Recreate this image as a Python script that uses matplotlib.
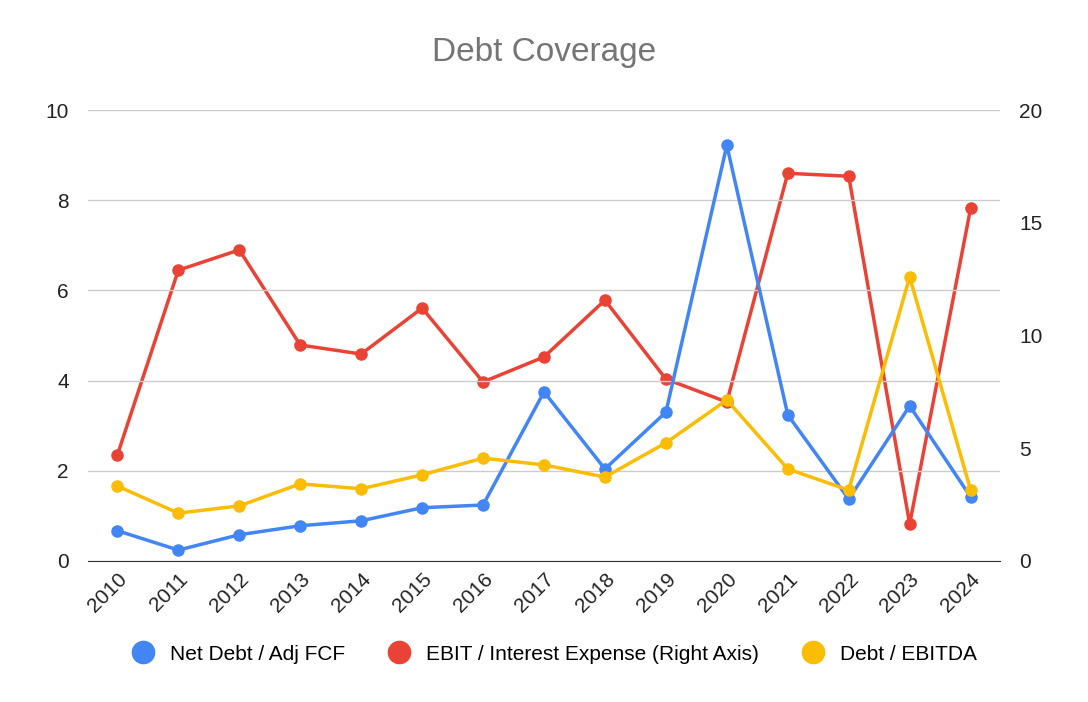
import matplotlib.pyplot as plt

years = [str(y) for y in range(2010, 2025)]
net_debt_fcf = [0.67, 0.24, 0.58, 0.78, 0.89, 1.18, 1.24, 3.75, 2.04, 3.30, 9.22, 3.24, 1.37, 3.44, 1.42]
ebit_interest = [4.7, 12.9, 13.8, 9.58, 9.18, 11.22, 7.94, 9.05, 11.57, 8.07, 7.05, 17.2, 17.07, 1.64, 15.65]
debt_ebitda = [1.66, 1.06, 1.22, 1.71, 1.60, 1.91, 2.28, 2.13, 1.86, 2.62, 3.57, 2.04, 1.57, 6.30, 1.57]

plt.rcParams['font.family'] = ['Arial', 'Liberation Sans', 'DejaVu Sans']

fig = plt.figure(figsize=(10.88, 7.02), dpi=100)
ax = fig.add_axes([0.081, 0.201, 0.838, 0.642])
ax2 = ax.twinx()

x = list(range(len(years)))
ax.plot(x, net_debt_fcf, color='#4285F4', lw=2.5, marker='o', ms=8, zorder=3)
ax.plot(x, debt_ebitda, color='#FBBC04', lw=2.5, marker='o', ms=8, zorder=4)
ax2.plot(x, ebit_interest, color='#EA4335', lw=2.5, marker='o', ms=8)

ax.set_ylim(0, 10)
ax2.set_ylim(0, 20)
ax.set_yticks([0, 2, 4, 6, 8, 10])
ax2.set_yticks([0, 5, 10, 15, 20])
ax.set_xlim(-0.48, 14.48)
ax.set_xticks(x)
ax.set_xticklabels(years, rotation=45, ha='right', rotation_mode='anchor')
ax.grid(axis='y', color='#cccccc', lw=1)
ax.set_axisbelow(True)
for a in (ax, ax2):
    for s in a.spines.values():
        s.set_visible(False)
    a.tick_params(length=0, labelsize=15, colors='#222222')
ax.spines['bottom'].set_visible(True)
ax.spines['bottom'].set_color('#333333')
ax.tick_params(axis='x', pad=6)
ax.tick_params(axis='y', pad=14)
ax2.tick_params(axis='y', pad=14)

# put the secondary line behind the primary ones visually but above grid
ax.set_zorder(ax2.get_zorder() + 1)
ax.patch.set_visible(False)

fig.text(0.5, 0.925, 'Debt Coverage', ha='center', va='center', fontsize=24, color='#757575')

from matplotlib.lines import Line2D
handles = [Line2D([], [], ls='', marker='o', ms=16, color=c) for c in ('#4285F4', '#EA4335', '#FBBC04')]
fig.legend(handles, ['Net Debt / Adj FCF', 'EBIT / Interest Expense (Right Axis)', 'Debt / EBITDA'],
           loc='center', bbox_to_anchor=(0.505, 0.068), ncol=3, frameon=False, fontsize=15,
           handletextpad=0.3, columnspacing=1.6)

fig.savefig('out.png')
